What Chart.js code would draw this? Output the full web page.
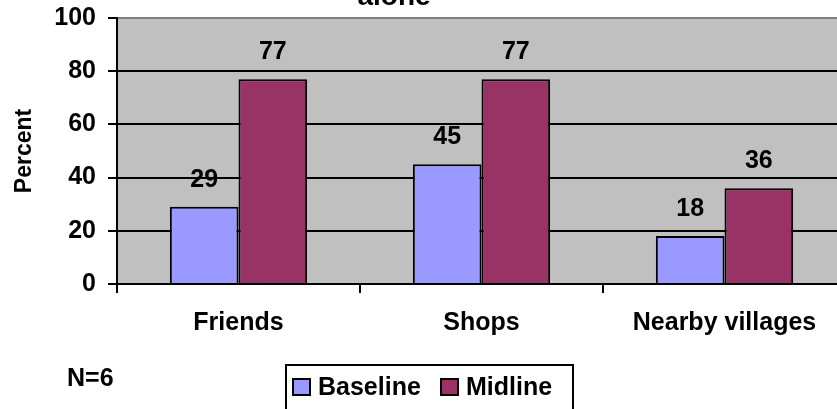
<!DOCTYPE html>
<html>
<head>
<meta charset="utf-8">
<script src="https://cdn.jsdelivr.net/npm/chart.js@4"></script>
<style>
  html, body { margin: 0; padding: 0; overflow: hidden; background: #fff; }
</style>
</head>
<body>
<canvas id="placesChart" width="850" height="409"></canvas>
<script>
const categories = ['Friends', 'Shops', 'Nearby villages'];
const baseline = [29, 45, 18];
const midline = [77, 77, 36];
const yTicks = [0, 20, 40, 60, 80, 100];
const seriesNames = ['Baseline', 'Midline'];
const seriesColors = ['#9999FF', '#993366'];
const sampleNote = 'N=6';
const titleTail = 'alone';

const family = '"Liberation Sans", Arial, sans-serif';
const boldFont = 'bold 25px ' + family;

// grey plot area behind the bars
const plotBg = {
    id: 'plotBg',
    beforeDraw(chart) {
        const a = chart.chartArea, ctx = chart.ctx;
        ctx.save();
        ctx.fillStyle = '#C0C0C0';
        ctx.fillRect(a.left, a.top, a.right - a.left, a.bottom - a.top);
        ctx.restore();
    }
};

// value above every bar
const valueLabels = {
    id: 'valueLabels',
    afterDatasetsDraw(chart) {
        const ctx = chart.ctx;
        ctx.save();
        ctx.font = boldFont;
        ctx.fillStyle = '#000';
        ctx.textAlign = 'center';
        ctx.textBaseline = 'middle';
        chart.data.datasets.forEach((ds, i) => {
            chart.getDatasetMeta(i).data.forEach((bar, j) => {
                ctx.fillText(String(ds.data[j]), bar.x, bar.y - 27);
            });
        });
        ctx.restore();
    }
};

// title tail, legend box and sample note
const extras = {
    id: 'extras',
    afterDraw(chart) {
        const ctx = chart.ctx;
        ctx.save();
        ctx.font = 'bold 28px ' + family;
        ctx.fillStyle = '#000';
        ctx.textAlign = 'center';
        ctx.textBaseline = 'alphabetic';
        ctx.fillText(titleTail, 394, 5);

        ctx.font = boldFont;
        ctx.textAlign = 'left';
        ctx.textBaseline = 'middle';
        ctx.fillText(sampleNote, 67, 379);

        // legend
        ctx.lineWidth = 2;
        ctx.strokeStyle = '#000';
        ctx.fillStyle = '#fff';
        ctx.fillRect(286, 365, 287, 60);
        ctx.strokeRect(286, 365, 287, 60);
        const itemX = [293, 441];
        chart.data.datasets.forEach((ds, i) => {
            ctx.fillStyle = ds.backgroundColor;
            ctx.fillRect(itemX[i], 379, 17, 16);
            ctx.strokeRect(itemX[i], 379, 17, 16);
            ctx.fillStyle = '#000';
            ctx.fillText(ds.label, itemX[i] + 25, 388);
        });
        ctx.restore();
    }
};

new Chart(document.getElementById('placesChart').getContext('2d'), {
    type: 'bar',
    data: {
        labels: categories,
        datasets: [
            { label: seriesNames[0], data: baseline, backgroundColor: seriesColors[0] },
            { label: seriesNames[1], data: midline, backgroundColor: seriesColors[1] }
        ]
    },
    options: {
        responsive: false,
        animation: false,
        layout: { padding: { top: 18, right: 4, left: 0, bottom: 0 } },
        datasets: {
            bar: {
                borderColor: '#000',
                borderWidth: 2,
                categoryPercentage: 0.565,
                barPercentage: 1
            }
        },
        plugins: {
            legend: { display: false },
            tooltip: { enabled: false }
        },
        scales: {
            x: {
                afterFit(scale) {
                    scale.height = 125;
                    scale.paddingLeft = 0;
                    scale.paddingRight = 0;
                },
                grid: {
                    offset: true,
                    drawOnChartArea: false,
                    tickLength: 9,
                    tickColor: '#000',
                    lineWidth: 2
                },
                border: { color: '#000', width: 2 },
                ticks: {
                    color: '#000',
                    font: { family: family, size: 25, weight: 'bold' },
                    padding: 15,
                    maxRotation: 0
                }
            },
            y: {
                min: 0,
                max: 100,
                afterFit(scale) {
                    scale.width = 117;
                    scale.paddingTop = 0;
                    scale.paddingBottom = 0;
                },
                afterBuildTicks(scale) { scale.ticks = yTicks.map(v => ({ value: v })); },
                grid: {
                    color: ctx => ctx.tick && ctx.tick.value === 100 ? '#808080' : '#000',
                    tickColor: '#000',
                    lineWidth: 2,
                    tickLength: 9
                },
                border: { color: '#000', width: 2 },
                ticks: {
                    color: '#000',
                    font: { family: family, size: 25, weight: 'bold' },
                    padding: 12
                },
                title: {
                    display: true,
                    text: 'Percent',
                    color: '#000',
                    font: { family: family, size: 23, weight: 'bold' },
                    padding: { top: 11, bottom: 0 }
                }
            }
        }
    },
    plugins: [plotBg, valueLabels, extras]
});
</script>
</body>
</html>
